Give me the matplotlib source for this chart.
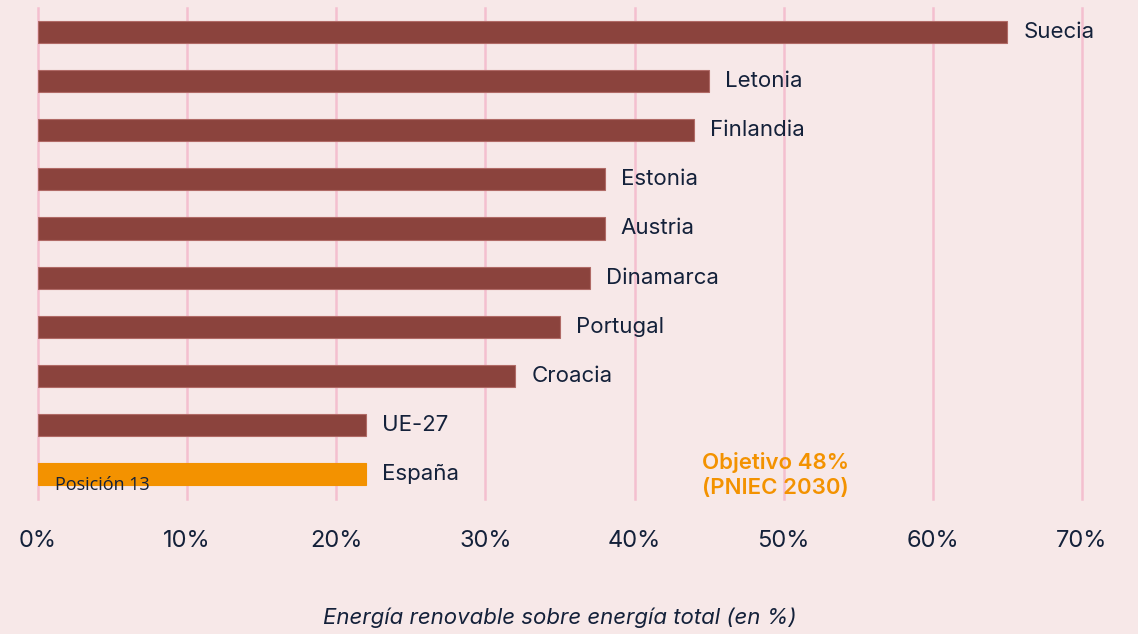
import matplotlib.pyplot as plt

countries = ['España', 'UE-27', 'Croacia', 'Portugal', 'Dinamarca',
             'Austria', 'Estonia', 'Finlandia', 'Letonia', 'Suecia']
values = [22, 22, 32, 35, 37, 38, 38, 44, 45, 65]
ticks = [0, 10, 20, 30, 40, 50, 60, 70]
tick_labels = ['0%', '10%', '20%', '30%', '40%', '50%', '60%', '70%']

bg = '#f7e8e8'
brown = '#8b433d'
orange = '#f39200'
text_col = '#14213a'
grid_col = '#f4bfcf'

fig = plt.figure(figsize=(11.38, 6.34), dpi=100, facecolor=bg)
ax = fig.add_axes([0.0334, 0.2129, 0.9174, 0.7745], facecolor=bg)

colors = [orange if c == 'España' else brown for c in countries]
edges = [orange if c == 'España' else '#b06a66' for c in countries]
pos = range(len(countries))
ax.barh(pos, values, height=0.45, color=colors, edgecolor=edges,
        linewidth=0.8, zorder=3)

for i, (c, v) in enumerate(zip(countries, values)):
    ax.annotate(c, (v, i), xytext=(16, 0), textcoords='offset pixels',
                va='center', ha='left', fontsize=16, color=text_col,
                family='Inter')

ax.annotate('Posición 13', (0, 0), xytext=(17, -11), textcoords='offset pixels',
            va='center', ha='left', fontsize=13, color=text_col,
            family='Open Sans', zorder=4)

ax.text(44.5, -0.02, 'Objetivo 48%\n(PNIEC 2030)', color=orange, fontsize=16,
        fontweight='semibold', family='Inter', va='center', ha='left',
        linespacing=1.35)

ax.set_xlim(0, 70)
ax.set_ylim(-0.51, 9.49)
ax.set_xticks(ticks)
ax.set_xticklabels(tick_labels, fontsize=17, color=text_col, family='Inter')
ax.set_yticks([])
ax.tick_params(axis='x', length=0, pad=22)
for t in ticks:
    ax.axvline(t, color=grid_col, linewidth=1.8, zorder=0, clip_on=False)
for s in ax.spines.values():
    s.set_visible(False)

ax.set_xlabel('Energía renovable sobre energía total (en %)', fontsize=16,
              style='italic', color=text_col, family='Inter', labelpad=40)

fig.savefig('out.png', dpi=100, facecolor=bg)
